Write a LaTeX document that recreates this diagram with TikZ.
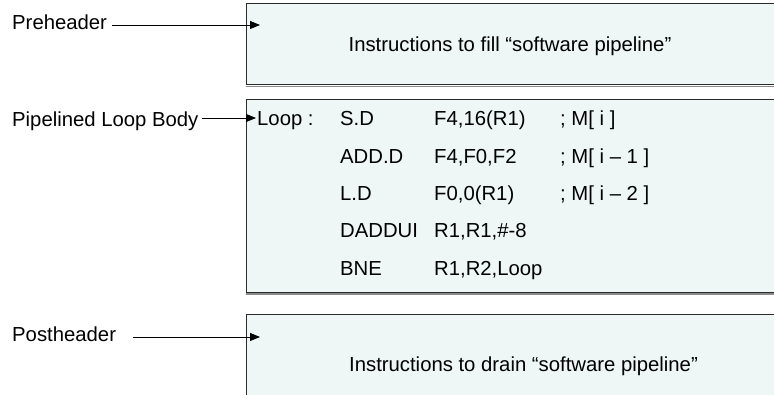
\documentclass[tikz,border=0pt]{standalone}
\usepackage{fontspec}
\setmainfont{Liberation Sans}
\usetikzlibrary{arrows.meta}
\definecolor{boxfill}{HTML}{EEF6F6}
\definecolor{boxline}{HTML}{2A2A2A}
\definecolor{shade}{HTML}{8A8A8A}
\begin{document}
\begin{tikzpicture}[x=1pt,y=-1pt,
  txt/.style={inner sep=0pt,anchor=base west,font=\fontsize{20.3}{24}\selectfont},
  ctxt/.style={txt,anchor=base},
  panel/.style={draw=boxline,line width=0.9pt,fill=boxfill,anchor=north west,
                minimum width=560pt,inner sep=0pt},
  shadowline/.style={draw=shade,line width=1.4pt},
  arr/.style={line width=0.9pt,-{Triangle[length=10pt,width=8pt]}}]
\useasboundingbox (0,0) rectangle (774,395);

% code blocks
\node[panel,minimum height=81.5pt] (fillbox) at (245.5,3) {};
\node[panel,minimum height=193pt] (loopbox) at (245.5,99) {};
\node[panel,minimum height=120pt] (drainbox) at (245.5,314.5) {};
\draw[shadowline] ([yshift=-1.3pt]fillbox.south west) -- ([yshift=-1.3pt]fillbox.south east);
\draw[shadowline] ([yshift=-1.3pt]loopbox.south west) -- ([yshift=-1.3pt]loopbox.south east);

\node[ctxt] (filltext) at (510,52) {Instructions to fill “software pipeline”};
\node[ctxt] (draintext) at (523.5,372) {Instructions to drain “software pipeline”};

% labels on the left
\node[txt] (pre) at (12,30) {Preheader};
\node[txt] (body) at (12,127) {Pipelined Loop Body};
\node[txt] (post) at (12,342) {Postheader};

\coordinate (preA) at (112,25);   \coordinate (preB) at (260,25);
\coordinate (bodyA) at (202,118); \coordinate (bodyB) at (256,118);
\coordinate (postA) at (133,337); \coordinate (postB) at (260,337);
\draw[arr] (preA) -- (preB);
\draw[arr] (bodyA) -- (bodyB);
\draw[arr] (postA) -- (postB);

% loop body listing
\node[txt] (lbl) at (257,126) {Loop :};
\node[txt] (op1) at (340,126) {S.D};
\node[txt] (ar1) at (434,126) {F4,16(R1)};
\node[txt] (cm1) at (560,126) {; M[ i ]};
\node[txt] (op2) at (340,163.3) {ADD.D};
\node[txt] (ar2) at (434,163.3) {F4,F0,F2};
\node[txt] (cm2) at (560,163.3) {; M[ i – 1 ]};
\node[txt] (op3) at (340,200.6) {L.D};
\node[txt] (ar3) at (434,200.6) {F0,0(R1)};
\node[txt] (cm3) at (560,200.6) {; M[ i – 2 ]};
\node[txt] (op4) at (340,237.9) {DADDUI};
\node[txt] (ar4) at (434,237.9) {R1,R1,\#-8};
\node[txt] (op5) at (340,275.2) {BNE};
\node[txt] (ar5) at (434,275.2) {R1,R2,Loop};
\end{tikzpicture}
\end{document}
